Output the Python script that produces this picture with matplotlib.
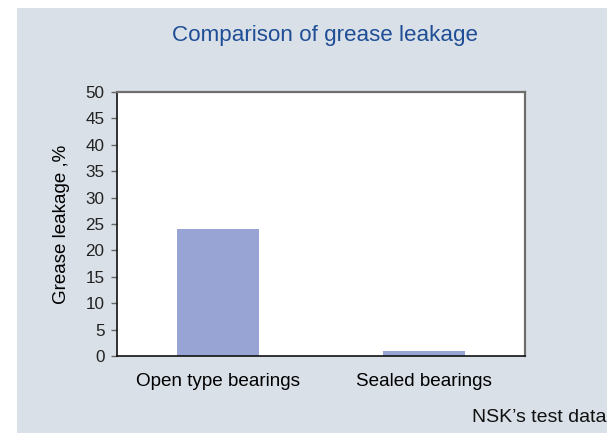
import matplotlib.pyplot as plt
from matplotlib.patches import Rectangle

plt.rcParams['font.family'] = ['Liberation Sans', 'DejaVu Sans']

# leakage after the test run, %
categories = ['Open type bearings', 'Sealed bearings']
leakage = [24, 1]
y_ticks = list(range(0, 55, 5))

W, H = 607, 433
fig = plt.figure(figsize=(W / 100, H / 100), dpi=100)
fig.patch.set_facecolor('white')

# grey-blue panel behind everything
fig.patches.append(Rectangle((17 / W, 0), 1 - 17 / W, 1 - 8 / H,
                             transform=fig.transFigure, facecolor='#d9e0e7',
                             edgecolor='none', zorder=-5))

ax = fig.add_axes([117 / W, 1 - 356 / H, (525 - 117) / W, (356 - 92) / H])
ax.set_facecolor('white')

x = range(len(categories))
ax.bar(x, leakage, width=0.40, color='#98a5d4', zorder=2)

ax.set_xlim(-0.49, 1.49)
ax.set_ylim(0, 50)
ax.set_yticks(y_ticks)
ax.set_xticks(list(x))
ax.set_xticklabels(categories, fontsize=13.6)
ax.tick_params(axis='x', length=0, pad=12)
ax.tick_params(axis='y', length=4, width=1, color='#666666', labelsize=12.3, pad=5,
               labelcolor='#222222')
ax.set_ylabel('Grease leakage ,%', fontsize=13.5, labelpad=11)

for side in ['left', 'bottom']:
    ax.spines[side].set_color('#111111')
    ax.spines[side].set_linewidth(1.2)
for side in ['top', 'right']:
    ax.spines[side].set_color('#6e6e6e')
    ax.spines[side].set_linewidth(1.6)

fig.text(325 / W, 1 - 36 / H, 'Comparison of grease leakage', ha='center', va='center',
         fontsize=16.1, color='#1f4e96')
fig.text(1.0, 1 - 418 / H, 'NSK\u2019s test data', ha='right', va='center',
         fontsize=14, color='#111111')

fig.savefig('out.png', dpi=100)
